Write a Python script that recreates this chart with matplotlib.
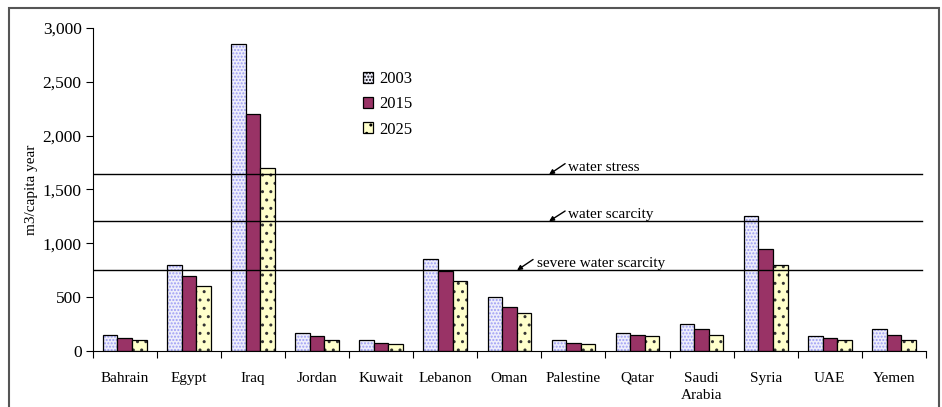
import numpy as np
import matplotlib
matplotlib.use('Agg')
import matplotlib.pyplot as plt
from matplotlib.patches import Rectangle

plt.rcParams['font.family'] = ['Liberation Serif', 'DejaVu Serif']
plt.rcParams['hatch.linewidth'] = 1.0

countries = ['Bahrain', 'Egypt', 'Iraq', 'Jordan', 'Kuwait', 'Lebanon', 'Oman',
             'Palestine', 'Qatar', 'Saudi\nArabia', 'Syria', 'UAE', 'Yemen']
years = ['2003', '2015', '2025']
v2003 = [150, 800, 2850, 170, 100, 850, 500, 100, 170, 250, 1250, 140, 200]
v2015 = [120, 700, 2200, 135, 70, 745, 405, 70, 150, 200, 950, 125, 150]
v2025 = [100, 600, 1700, 105, 65, 650, 350, 65, 140, 150, 800, 105, 105]

thresholds = [1640, 1205, 750]
threshold_labels = ['water stress', 'water scarcity', 'severe water scarcity']

fig = plt.figure(figsize=(9.42, 4.07), dpi=100)
ax = fig.add_axes([0.0984, 0.1376, 0.8846, 0.7936])

x = np.arange(len(countries))
w = 0.227
styles = [
    dict(color='#eeeefb', hatch='.....', edgecolor='#9c9cf4'),
    dict(color='#993366', hatch=None, edgecolor='black'),
    dict(color='#ffffcc', hatch='..', edgecolor='#333333'),
]
for i, (vals, st) in enumerate(zip([v2003, v2015, v2025], styles)):
    ax.bar(x + (i - 1) * w, vals, w, color=st['color'], hatch=st['hatch'],
           edgecolor=st['edgecolor'], linewidth=0, label=years[i])
    # black outline on top of hatch
    ax.bar(x + (i - 1) * w, vals, w, fill=False, edgecolor='black', linewidth=0.9)

for t in thresholds:
    ax.axhline(t, color='black', linewidth=1.0, xmax=0.995)

# arrows and labels for thresholds
ann = [(6.62, 1640, 6.87, 1740, 6.92), (6.62, 1205, 6.87, 1300, 6.92), (6.12, 750, 6.37, 850, 6.43)]
for (xa, ya, xt, yt, xl), lab in zip(ann, threshold_labels):
    ax.annotate('', xy=(xa, ya), xytext=(xt, yt),
                arrowprops=dict(arrowstyle='-|>', color='black', lw=1.0, mutation_scale=7,
                                shrinkA=0, shrinkB=0))
    ax.text(xl, yt - 35, lab, fontsize=11, va='center', ha='left')

ax.set_xlim(-0.5, len(countries) - 0.5)
ax.set_ylim(0, 3000)
ax.set_yticks(np.arange(0, 3001, 500))
ax.set_yticklabels(['{:,}'.format(v) for v in range(0, 3001, 500)], fontsize=12.5)
ax.set_xticks(np.arange(-0.5, len(countries), 1))
ax.set_xticklabels([])
ax.set_xticks(x, minor=True)
ax.set_xticklabels(countries, minor=True, fontsize=11, linespacing=1.4)
ax.tick_params(axis='x', which='minor', length=0, pad=15)
ax.tick_params(axis='x', which='major', direction='out', length=5)
ax.tick_params(axis='y', direction='out', length=5, pad=3)
ax.spines['top'].set_visible(False)
ax.spines['right'].set_visible(False)
ax.set_ylabel('m3/capita year', fontsize=11, labelpad=3)

leg = ax.legend(loc='upper left', bbox_to_anchor=(0.324, 0.866), frameon=False,
                fontsize=12, handlelength=0.6, handleheight=0.6, labelspacing=0.55,
                handletextpad=0.4, borderpad=0, borderaxespad=0)
for h in leg.legend_handles:
    h.set_linewidth(0.9)
    h.set_edgecolor('black')

fig.patches.append(Rectangle((0.0096, -0.1), 0.9872, 1.08, transform=fig.transFigure,
                             fill=False, edgecolor='#555555', linewidth=1.5))

fig.savefig('out.png', dpi=100)
